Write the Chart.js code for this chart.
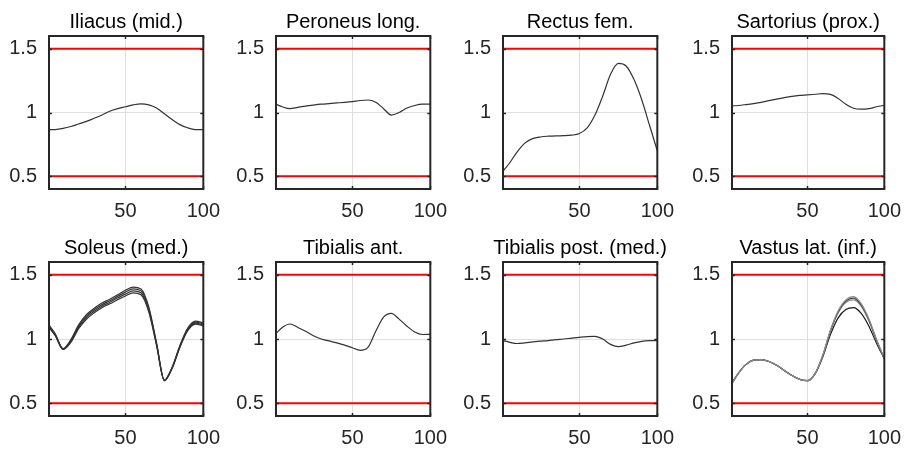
<!DOCTYPE html>
<html>
<head>
<meta charset="utf-8">
<script src="https://cdn.jsdelivr.net/npm/chart.js@4.4.1/dist/chart.umd.min.js"></script>
<style>
  html, body { margin: 0; padding: 0; background: #fff; }
  #wrap { position: relative; width: 914px; height: 452px; overflow: hidden; }
  #wrap canvas { position: absolute; }
</style>
</head>
<body>
<div id="wrap"></div>
<script>
// ========== DATA ==========
const xs = [1, 5, 10, 15, 20, 25, 30, 35, 40, 45, 50, 55, 60, 65, 70, 75, 80, 85, 90, 95, 100];

const titles = ['Iliacus (mid.)', 'Peroneus long.', 'Rectus fem.', 'Sartorius (prox.)',
  'Soleus (med.)', 'Tibialis ant.', 'Tibialis post. (med.)', 'Vastus lat. (inf.)'];

const iliacus = [0.865, 0.866, 0.875, 0.89, 0.91, 0.93, 0.955, 0.98, 1.01, 1.03, 1.045, 1.06, 1.068, 1.06, 1.035, 0.99, 0.945, 0.905, 0.88, 0.866, 0.865];
const peroneus = [1.065, 1.045, 1.03, 1.04, 1.05, 1.058, 1.065, 1.07, 1.075, 1.08, 1.086, 1.094, 1.098, 1.08, 1.03, 0.98, 1.0, 1.035, 1.055, 1.065, 1.065];
const rectus = [0.54, 0.6, 0.69, 0.76, 0.795, 0.808, 0.814, 0.817, 0.818, 0.822, 0.835, 0.88, 0.98, 1.13, 1.3, 1.385, 1.365, 1.26, 1.1, 0.9, 0.7];
const sartorius = [1.052, 1.055, 1.062, 1.07, 1.08, 1.093, 1.105, 1.117, 1.127, 1.134, 1.138, 1.143, 1.148, 1.142, 1.11, 1.065, 1.033, 1.026, 1.03, 1.045, 1.057];

const soleus1 = [1.11, 1.04, 0.925, 0.995, 1.11, 1.19, 1.24, 1.28, 1.31, 1.345, 1.38, 1.405, 1.39, 1.25, 0.97, 0.68, 0.78, 0.95, 1.085, 1.14, 1.125];
const soleus2 = [1.103, 1.035, 0.923, 0.988, 1.1, 1.178, 1.228, 1.268, 1.298, 1.332, 1.365, 1.39, 1.375, 1.237, 0.963, 0.678, 0.777, 0.945, 1.078, 1.132, 1.117];
const soleus3 = [1.096, 1.03, 0.921, 0.981, 1.09, 1.166, 1.216, 1.256, 1.286, 1.319, 1.35, 1.375, 1.36, 1.224, 0.956, 0.676, 0.774, 0.94, 1.071, 1.124, 1.109];
const soleus4 = [1.089, 1.025, 0.919, 0.974, 1.08, 1.154, 1.204, 1.244, 1.274, 1.306, 1.335, 1.36, 1.345, 1.211, 0.949, 0.674, 0.771, 0.935, 1.064, 1.116, 1.101];

const tibAnt = [1.042, 1.09, 1.117, 1.09, 1.06, 1.025, 1.0, 0.985, 0.97, 0.952, 0.932, 0.912, 0.935, 1.06, 1.17, 1.2, 1.155, 1.1, 1.055, 1.035, 1.036];
const tibPost = [0.987, 0.975, 0.965, 0.97, 0.977, 0.983, 0.988, 0.995, 1.0, 1.007, 1.013, 1.018, 1.02, 1.0, 0.958, 0.94, 0.952, 0.97, 0.982, 0.987, 0.988];

const vastus1 = [0.656, 0.73, 0.8, 0.835, 0.84, 0.825, 0.795, 0.755, 0.715, 0.685, 0.675, 0.73, 0.875, 1.07, 1.22, 1.305, 1.33, 1.275, 1.155, 0.995, 0.85];
const vastus2 = [0.656, 0.73, 0.8, 0.835, 0.84, 0.825, 0.795, 0.755, 0.715, 0.685, 0.675, 0.73, 0.872, 1.065, 1.212, 1.295, 1.318, 1.265, 1.148, 0.99, 0.848];
const vastus3 = [0.656, 0.73, 0.8, 0.835, 0.84, 0.825, 0.795, 0.755, 0.715, 0.685, 0.675, 0.73, 0.868, 1.058, 1.203, 1.285, 1.305, 1.255, 1.14, 0.985, 0.846];
const vastus4 = [0.656, 0.73, 0.8, 0.835, 0.84, 0.825, 0.795, 0.755, 0.715, 0.685, 0.675, 0.728, 0.86, 1.035, 1.165, 1.23, 1.245, 1.2, 1.1, 0.965, 0.845];

const panelSeries = [
  [iliacus], [peroneus], [rectus], [sartorius],
  [soleus1, soleus2, soleus3, soleus4], [tibAnt], [tibPost],
  [vastus1, vastus2, vastus3, vastus4]
];

const limitLines = [0.5, 1.5];
const xTicks = [50, 100];
const yTicks = [0.5, 1, 1.5];

// ========== LAYOUT / STYLE ==========
const plotLefts = [49, 276, 503, 732];
const plotWidths = [165, 165, 165, 163];
const plotTops = [36, 262];
const plotHeights = [153, 154];
const PAD_LEFT = 48, PAD_RIGHT = 16, PAD_TOP = 36, PAD_BOTTOM = 34;
const FONT = '"Liberation Sans", Arial, Helvetica, sans-serif';
const TEXT = '#262626';
const lineColors = {
  4: ['#333333', '#333333', '#333333', '#333333'],
  7: ['#8c8c8c', '#404040', '#8c8c8c', '#1a1a1a']
};

// titles + box + inner tick marks
const framePlugin = {
  id: 'frame',
  afterDatasetsDraw(chart, args, opts) {
    const { ctx, chartArea: a, scales } = chart;
    ctx.save();
    ctx.strokeStyle = TEXT;
    ctx.lineWidth = 1.5;
    // inner ticks
    ctx.beginPath();
    xTicks.forEach(v => {
      const px = Math.round(scales.x.getPixelForValue(v)) + 0.5;
      ctx.moveTo(px, a.top); ctx.lineTo(px, a.top + 3);
      ctx.moveTo(px, a.bottom); ctx.lineTo(px, a.bottom - 3);
    });
    yTicks.forEach(v => {
      const py = Math.round(scales.y.getPixelForValue(v)) + 0.5;
      ctx.moveTo(a.left, py); ctx.lineTo(a.left + 3, py);
      ctx.moveTo(a.right, py); ctx.lineTo(a.right - 3, py);
    });
    ctx.stroke();
    ctx.lineWidth = 2;
    ctx.strokeRect(a.left, a.top, a.right - a.left, a.bottom - a.top);
    // title
    ctx.fillStyle = '#000';
    ctx.font = '20px ' + FONT;
    ctx.textAlign = 'center';
    ctx.textBaseline = 'alphabetic';
    ctx.fillText(opts.text, (a.left + a.right) / 2, a.top - 8);
    ctx.restore();
  }
};

const wrap = document.getElementById('wrap');

titles.forEach((title, i) => {
  const col = i % 4, row = Math.floor(i / 4);
  const canvas = document.createElement('canvas');
  canvas.width = PAD_LEFT + plotWidths[col] + PAD_RIGHT;
  canvas.height = PAD_TOP + plotHeights[row] + PAD_BOTTOM;
  canvas.style.left = (plotLefts[col] - PAD_LEFT) + 'px';
  canvas.style.top = (plotTops[row] - PAD_TOP) + 'px';
  wrap.appendChild(canvas);

  const datasets = limitLines.map(v => ({
    data: [{ x: xs[0], y: v }, { x: xs[xs.length - 1], y: v }],
    borderColor: '#ff0000',
    borderWidth: 2,
    pointRadius: 0
  }));
  panelSeries[i].forEach((series, k) => {
    datasets.push({
      data: series.map((y, j) => ({ x: xs[j], y })),
      borderColor: (lineColors[i] || [])[k] || '#333333',
      borderWidth: 1.2,
      pointRadius: 0,
      cubicInterpolationMode: 'monotone'
    });
  });

  new Chart(canvas, {
    type: 'line',
    data: { datasets },
    options: {
      responsive: false,
      animation: false,
      devicePixelRatio: 1,
      layout: { padding: { top: PAD_TOP, right: PAD_RIGHT, left: 0, bottom: 0 } },
      plugins: {
        legend: { display: false },
        tooltip: { enabled: false },
        frame: { text: title }
      },
      scales: {
        x: {
          type: 'linear',
          min: 1,
          max: 100,
          afterFit: s => { s.height = PAD_BOTTOM; },
          afterBuildTicks: s => { s.ticks = xTicks.map(v => ({ value: v })); },
          grid: { color: '#dfdfdf', drawTicks: false },
          border: { display: false },
          ticks: {
            padding: 10, color: TEXT, maxRotation: 0, autoSkip: false,
            font: { family: FONT, size: 20 },
            callback: v => String(v)
          }
        },
        y: {
          min: 0.4,
          max: 1.6,
          afterFit: s => { s.width = PAD_LEFT; },
          afterBuildTicks: s => { s.ticks = yTicks.map(v => ({ value: v })); },
          grid: { color: '#dfdfdf', drawTicks: false },
          border: { display: false },
          ticks: {
            padding: 12, color: TEXT, autoSkip: false,
            font: { family: FONT, size: 20 },
            callback: v => String(v)
          }
        }
      }
    },
    plugins: [framePlugin]
  });
});
</script>
</body>
</html>
